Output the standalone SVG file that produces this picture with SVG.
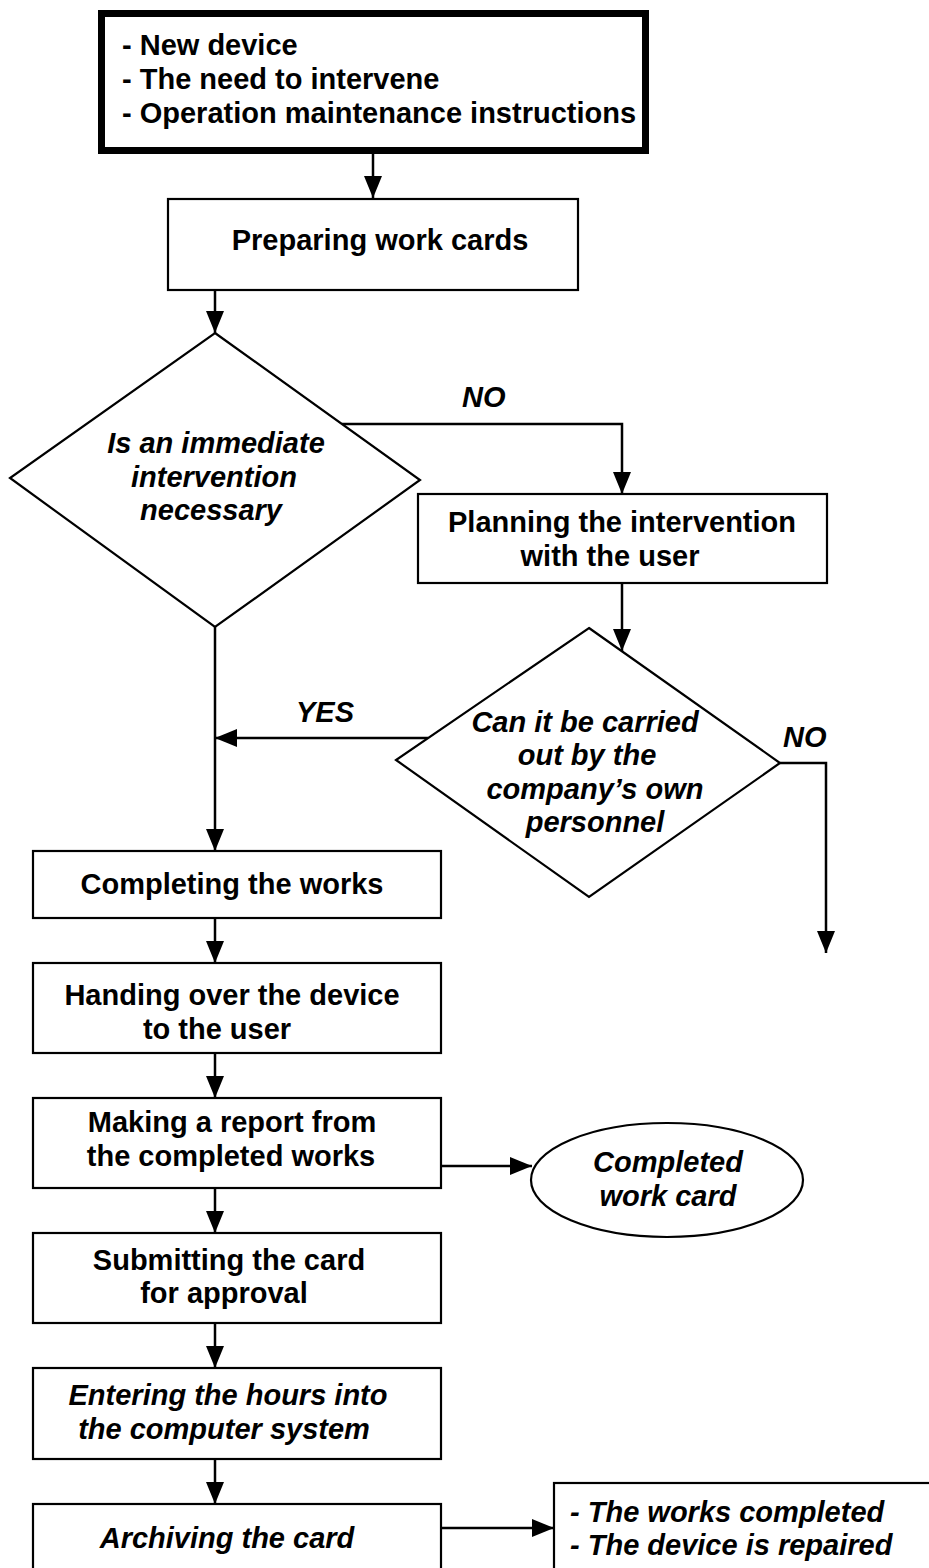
<svg xmlns="http://www.w3.org/2000/svg" width="929" height="1568" viewBox="0 0 929 1568">
<style>
.box{fill:#fff;stroke:#000;stroke-width:2.2}
.thick{fill:#fff;stroke:#000;stroke-width:7}
.t{font-family:"Liberation Sans",Arial,sans-serif;font-size:29px;font-weight:bold;fill:#000}
.c{text-anchor:middle}
.i{font-style:italic}
.con{fill:none;stroke:#000;stroke-width:2.5}
</style>
<defs>
<marker id="ah" markerUnits="userSpaceOnUse" markerWidth="22" markerHeight="18" viewBox="0 0 22 18" refX="22" refY="9" orient="auto">
<path d="M0,0 L22,9 L0,18 z" fill="#000"/>
</marker>
</defs>
<rect width="929" height="1568" fill="#fff"/>

<g id="connectors">
<line class="con" x1="373" y1="154" x2="373" y2="198" marker-end="url(#ah)"/>
<line class="con" x1="215" y1="290" x2="215" y2="333" marker-end="url(#ah)"/>
<polyline class="con" points="342,424 622,424 622,494" marker-end="url(#ah)"/>
<line class="con" x1="622" y1="583" x2="622" y2="651" marker-end="url(#ah)"/>
<line class="con" x1="428" y1="738" x2="215" y2="738" marker-end="url(#ah)"/>
<polyline class="con" points="780,763 826,763 826,953" marker-end="url(#ah)"/>
<line class="con" x1="215" y1="627" x2="215" y2="851" marker-end="url(#ah)"/>
<line class="con" x1="215" y1="918" x2="215" y2="963" marker-end="url(#ah)"/>
<line class="con" x1="215" y1="1053" x2="215" y2="1098" marker-end="url(#ah)"/>
<line class="con" x1="441" y1="1166" x2="532" y2="1166" marker-end="url(#ah)"/>
<line class="con" x1="215" y1="1188" x2="215" y2="1233" marker-end="url(#ah)"/>
<line class="con" x1="215" y1="1323" x2="215" y2="1368" marker-end="url(#ah)"/>
<line class="con" x1="215" y1="1459" x2="215" y2="1504" marker-end="url(#ah)"/>
<line class="con" x1="441" y1="1528" x2="554" y2="1528" marker-end="url(#ah)"/>
<text class="t i" x="462" y="407">NO</text>
<text class="t i" x="296" y="722">YES</text>
<text class="t i" x="783" y="747">NO</text>
</g>

<g id="start">
<rect class="thick" x="101.5" y="13.5" width="544" height="137"/>
<text class="t" x="122" y="55">- New device</text>
<text class="t" x="122" y="89">- The need to intervene</text>
<text class="t" x="122" y="123">- Operation maintenance instructions</text>
</g>

<g id="prepare">
<rect class="box" x="168" y="199" width="410" height="91"/>
<text class="t c" x="380" y="250">Preparing work cards</text>
</g>

<g id="decision1">
<polygon class="box" points="215,333 420,480 215,627 10,478"/>
<text class="t c i" x="216" y="453">Is an immediate</text>
<text class="t c i" x="214" y="487">intervention</text>
<text class="t c i" x="211" y="520">necessary</text>
</g>

<g id="planning">
<rect class="box" x="418" y="494" width="409" height="89"/>
<text class="t c" x="622" y="532">Planning the intervention</text>
<text class="t c" x="610" y="566">with the user</text>
</g>

<g id="decision2">
<polygon class="box" points="589,628 780,763 589,897 396,760"/>
<text class="t c i" x="585" y="732">Can it be carried</text>
<text class="t c i" x="587" y="765">out by the</text>
<text class="t c i" x="595" y="799">company’s own</text>
<text class="t c i" x="595" y="832">personnel</text>
</g>

<g id="completing">
<rect class="box" x="33" y="851" width="408" height="67"/>
<text class="t c" x="232" y="894">Completing the works</text>
</g>

<g id="handing">
<rect class="box" x="33" y="963" width="408" height="90"/>
<text class="t c" x="232" y="1005">Handing over the device</text>
<text class="t c" x="217" y="1039">to the user</text>
</g>

<g id="report">
<rect class="box" x="33" y="1098" width="408" height="90"/>
<text class="t c" x="232" y="1132">Making a report from</text>
<text class="t c" x="231" y="1166">the completed works</text>
</g>

<g id="workcard">
<ellipse class="box" cx="667" cy="1180" rx="136" ry="57"/>
<text class="t c i" x="668" y="1172">Completed</text>
<text class="t c i" x="668" y="1206">work card</text>
</g>

<g id="submitting">
<rect class="box" x="33" y="1233" width="408" height="90"/>
<text class="t c" x="229" y="1270">Submitting the card</text>
<text class="t c" x="224" y="1303">for approval</text>
</g>

<g id="entering">
<rect class="box" x="33" y="1368" width="408" height="91"/>
<text class="t c i" x="228" y="1405">Entering the hours into</text>
<text class="t c i" x="224" y="1439">the computer system</text>
</g>

<g id="archiving">
<rect class="box" x="33" y="1504" width="408" height="80"/>
<text class="t c i" x="227" y="1548">Archiving the card</text>
</g>

<g id="end">
<rect class="box" x="554" y="1483" width="390" height="100"/>
<text class="t i" x="570" y="1522">- The works completed</text>
<text class="t i" x="570" y="1555">- The device is repaired</text>
</g>
</svg>
